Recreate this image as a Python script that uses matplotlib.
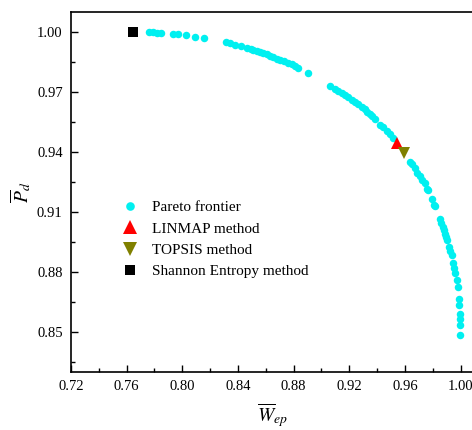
import matplotlib
matplotlib.use('Agg')
import matplotlib.pyplot as plt
import numpy as np
from matplotlib.ticker import FormatStrFormatter

plt.rcParams['font.family'] = 'Liberation Serif'
plt.rcParams['mathtext.fontset'] = 'stix'

# Pareto frontier points (W_ep, P_d)
pareto_w = [0.7760, 0.7787, 0.7816, 0.7847, 0.7931, 0.7966, 0.8026, 0.8091, 0.8158,
            0.8311, 0.8340, 0.8379, 0.8420, 0.8462, 0.8490, 0.8510, 0.8535, 0.8558,
            0.8580, 0.8606, 0.8630, 0.8653, 0.8680, 0.8701, 0.8730, 0.8761, 0.8790,
            0.8809, 0.8833, 0.8905,
            0.9061, 0.9100, 0.9120, 0.9145, 0.9168, 0.9190, 0.9217, 0.9240, 0.9264,
            0.9290, 0.9312, 0.9330, 0.9348, 0.9365, 0.9384, 0.9420, 0.9440, 0.9468,
            0.9490, 0.9516,
            0.9635, 0.9650, 0.9671, 0.9690, 0.9707, 0.9725, 0.9743, 0.9755, 0.9767,
            0.9791, 0.9807, 0.9815, 0.9851, 0.9860, 0.9870, 0.9878, 0.9886, 0.9895,
            0.9903, 0.9918, 0.9926, 0.9935, 0.9946, 0.9952, 0.9959, 0.9971, 0.9978,
            0.9987, 0.9990, 0.9994, 0.9997, 0.9997, 0.9999]
pareto_p = [1.0000, 1.0000, 0.9998, 0.9997, 0.9991, 0.9990, 0.9985, 0.9978, 0.9971,
            0.9950, 0.9945, 0.9938, 0.9931, 0.9923, 0.9916, 0.9911, 0.9905, 0.9900,
            0.9895, 0.9890, 0.9884, 0.9878, 0.9868, 0.9861, 0.9855, 0.9848, 0.9840,
            0.9833, 0.9820, 0.9798,
            0.9732, 0.9716, 0.9707, 0.9697, 0.9686, 0.9676, 0.9664, 0.9653, 0.9641,
            0.9629, 0.9616, 0.9604, 0.9591, 0.9579, 0.9566, 0.9537, 0.9524, 0.9506,
            0.9490, 0.9472,
            0.9352, 0.9340, 0.9319, 0.9298, 0.9282, 0.9262, 0.9244, 0.9218, 0.9210,
            0.9165, 0.9135, 0.9130, 0.9065, 0.9045, 0.9026, 0.9010, 0.8993, 0.8977,
            0.8960, 0.8926, 0.8905, 0.8884, 0.8843, 0.8820, 0.8793, 0.8759, 0.8725,
            0.8667, 0.8634, 0.8592, 0.8567, 0.8533, 0.8483]

# Decision-making points
linmap = (0.9540, 0.9447)
topsis = (0.9592, 0.9394)
shannon = (0.7643, 1.0000)

x_ticks = [0.72, 0.76, 0.80, 0.84, 0.88, 0.92, 0.96, 1.00]
y_ticks = [0.85, 0.88, 0.91, 0.94, 0.97, 1.00]

fig = plt.figure(figsize=(4.72, 4.30), dpi=100)
ax = fig.add_axes([0.1504, 0.135, 0.855, 0.837])

ax.plot(pareto_w, pareto_p, 'o', color='#00F0F0', markersize=5.4,
        markeredgewidth=0, label='Pareto frontier')
ax.plot(*linmap, '^', color='#FF0000', markersize=8.5, markeredgewidth=0,
        label='LINMAP method')
ax.plot(*topsis, 'v', color='#808000', markersize=8.5, markeredgewidth=0,
        label='TOPSIS method')
ax.plot(*shannon, 's', color='black', markersize=6.5, markeredgewidth=0,
        label='Shannon Entropy method')

ax.set_xlim(0.72, 1.01)
ax.set_ylim(0.83, 1.0102)
ax.set_xticks(x_ticks)
ax.set_yticks(y_ticks)
ax.set_xticks(np.array(x_ticks[:-1]) + 0.02, minor=True)
ax.set_yticks([0.835] + list(np.array(y_ticks[:-1]) + 0.015), minor=True)
ax.xaxis.set_major_formatter(FormatStrFormatter('%.2f'))
ax.yaxis.set_major_formatter(FormatStrFormatter('%.2f'))
ax.tick_params(which='both', direction='in', top=False, right=False,
               labelsize=10.5, width=1.0, pad=6)
ax.tick_params(which='major', length=5)
ax.tick_params(which='minor', length=3)
for s in ax.spines.values():
    s.set_linewidth(1.2)

ax.set_xlabel(r'$\overline{W}_{ep}$', fontsize=14, labelpad=6)
ax.set_ylabel(r'$\overline{P}_{d}$', fontsize=14, labelpad=3)

ax.legend(loc='upper left', bbox_to_anchor=(0.105, 0.497), frameon=False,
          fontsize=11, handletextpad=0.85, labelspacing=0.5, borderpad=0,
          handlelength=1.2, markerscale=1.15)

fig.savefig('out.png', dpi=100)
